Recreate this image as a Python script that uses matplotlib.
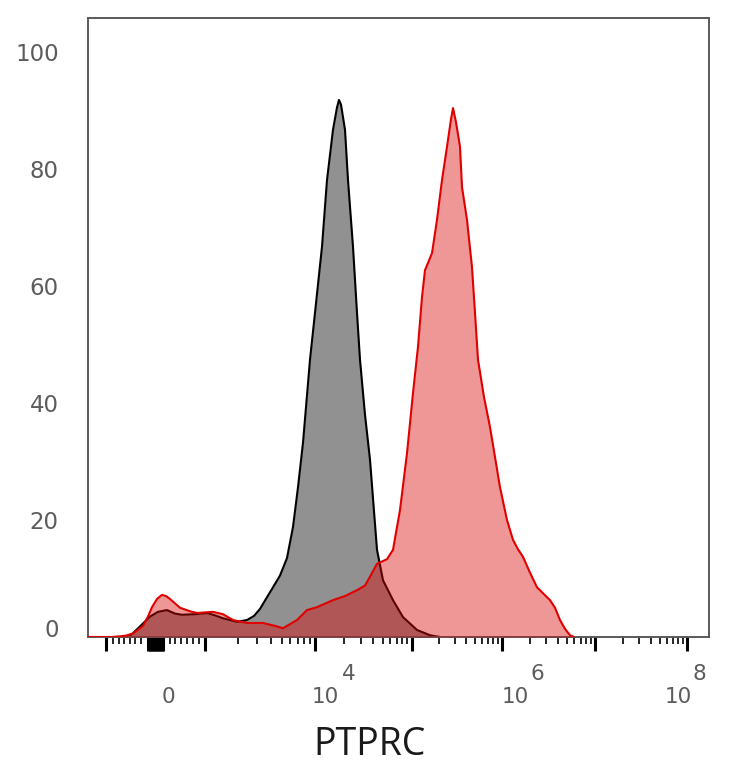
import numpy as np
import matplotlib
matplotlib.use("Agg")
import matplotlib.pyplot as plt
from matplotlib.transforms import blended_transform_factory, ScaledTranslation

# ---- data: x in display channel units, y in % of max ----
gray_x = [37, 44, 52, 62, 70, 79, 87, 94, 107, 119, 127, 135, 149, 159, 166, 172, 179, 185,
          192, 199, 205, 210, 215, 222, 227, 234, 239, 245, 249, 251, 253, 257, 260, 265, 269,
          272, 277, 282, 286, 289, 295, 305, 315, 329, 342, 352]
gray_y = [0, 0.5, 1.8, 3.5, 4.3, 4.6, 4.0, 3.8, 3.9, 4.1, 3.7, 3.2, 2.6, 2.9, 3.6, 4.8, 6.8, 8.5,
          10.5, 13.5, 18.8, 25.6, 33.2, 47.4, 55.4, 66.7, 78.1, 86.7, 90.5, 91.8, 91.0, 86.7, 78.1,
          66.7, 55.4, 47.4, 38.0, 30.3, 21.5, 14.9, 9.7, 6.3, 3.4, 1.2, 0.3, 0]

red_x = [0, 24, 37, 45, 55, 60, 64, 69, 74, 78, 82, 92, 102, 109, 117, 125, 135, 145, 159, 175,
         187, 195, 202, 209, 219, 229, 245, 257, 269, 277, 282, 289, 299, 305, 312, 319, 325, 330,
         334, 337, 344, 349, 354, 359, 363, 365, 368, 372, 374, 379, 384, 387, 390, 396, 402, 412,
         419, 425, 430, 435, 442, 449, 462, 467, 472, 477, 482, 486]
red_y = [0, 0, 0.2, 0.6, 1.9, 3.5, 5.1, 6.5, 7.2, 7.0, 6.5, 5.0, 4.4, 4.1, 4.2, 4.3, 3.9, 2.9, 2.4,
         2.4, 1.9, 1.5, 2.2, 2.9, 4.6, 5.1, 6.3, 7.0, 8.0, 8.8, 10.3, 12.5, 13.3, 14.9, 21.7, 31.4,
         41.7, 49.6, 58.1, 62.7, 65.6, 71.3, 78.1, 83.8, 88.5, 90.4, 88.0, 83.8, 76.9, 71.3, 63.2,
         55.4, 47.4, 41.0, 35.9, 25.6, 20.0, 16.6, 15.0, 13.7, 11.0, 8.5, 6.3, 5.0, 2.9, 1.4, 0.3, 0]

# axis tick positions (channel units)
decade_pos = [117, 226.7, 323.7, 413.7, 507, 599.3]      # 10^3 ... 10^8
neg_decade_pos = 18.3                                      # -10^3
zero_band = (60, 76)                                       # dense ticks around 0
linear_minor = [25, 31, 36, 42, 47, 53, 82, 87, 93, 99, 105, 111]

y_ticks = [0, 20, 40, 60, 80, 100]
x_label_base = ["0", "10", "10", "10"]
x_label_exp = ["", "4", "6", "8"]
x_label_left = [74, 224, 414, 577]
x_label_exp_left = [None, 254, 442, 605]
x_title = "PTPRC"

# ---- figure ----
fig = plt.figure(figsize=(7.34, 7.68), dpi=100)
ax = fig.add_axes([88 / 734, 131 / 768, 621 / 734, 619 / 768])

ax.fill_between(gray_x, gray_y, color="#919191", lw=0, zorder=1)
ax.plot(gray_x, gray_y, color="black", lw=1.5, zorder=2)
ax.fill_between(red_x, red_y, color="#db0505", alpha=0.42, lw=0, zorder=3)
ax.plot(red_x, red_y, color="#e00000", lw=1.5, zorder=4)

ax.set_xlim(0, 621)
ax.set_ylim(0, 105.8)

for s in ax.spines.values():
    s.set_color("#5a5a5a")
    s.set_linewidth(1.4)

# x ticks
major = [neg_decade_pos] + list(np.arange(zero_band[0], zero_band[1] + 0.1, 1.5)) + decade_pos
minor = list(linear_minor)
for a, b in zip(decade_pos[:-1], decade_pos[1:]):
    for k in range(2, 10):
        minor.append(a + np.log10(k) * (b - a))
ax.set_xticks(major)
ax.set_xticks(minor, minor=True)
ax.tick_params(axis="x", which="major", length=10, width=2.2, color="black",
               direction="out", labelbottom=False)
ax.tick_params(axis="x", which="minor", length=5, width=1.2, color="black",
               direction="out", labelbottom=False)

# y ticks
ax.set_yticks(y_ticks)
ax.set_yticklabels([str(v) for v in y_ticks])
ax.tick_params(axis="y", length=0, pad=21, labelsize=16.5, labelcolor="#5c5c5c")
lab0 = ax.get_yticklabels()[0]
lab0.set_transform(lab0.get_transform() + ScaledTranslation(0, 9 / 100, fig.dpi_scale_trans))

# x tick labels
tr = blended_transform_factory(ax.transData, fig.transFigure)
base_y = (768 - 703) / 768
exp_y = (768 - 680) / 768
for base, ex, xl, xe in zip(x_label_base, x_label_exp, x_label_left, x_label_exp_left):
    ax.text(xl, base_y, base, transform=tr, ha="left", va="baseline",
            fontsize=15.5, color="#5c5c5c", clip_on=False)
    if ex:
        ax.text(xe, exp_y, ex, transform=tr, ha="left", va="baseline",
                fontsize=15.5, color="#5c5c5c", clip_on=False)

fig.text(370 / 734, (768 - 755) / 768, x_title, family="Open Sans", fontsize=27,
         ha="center", va="baseline", color="#1a1a1a")

fig.savefig("out.png", dpi=100)
